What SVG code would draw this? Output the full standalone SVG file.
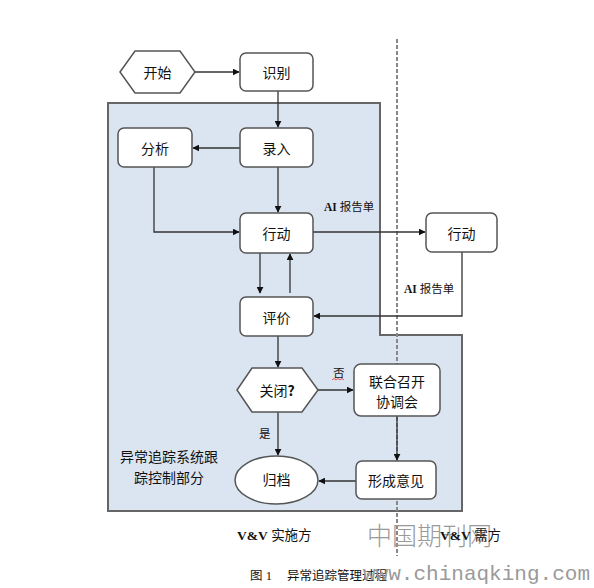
<svg xmlns="http://www.w3.org/2000/svg" width="594" height="588" viewBox="0 0 594 588">
<defs>
<style>
.n{fill:#fff;stroke:#555;stroke-width:1.5}
.t{font-family:"Noto Sans CJK SC","Liberation Sans",sans-serif;font-size:14px;fill:#111;text-anchor:middle;dominant-baseline:central}
.c{fill:none;stroke:#333;stroke-width:1.3}
.lab{font-family:"Liberation Serif","Noto Sans CJK SC",serif;font-size:11.5px;fill:#111}
.wm{fill:#9a9a9a}
</style>
<marker id="a" viewBox="0 0 10 10" refX="9" refY="5" markerWidth="7" markerHeight="7" orient="auto" markerUnits="userSpaceOnUse"><path d="M0,0 L10,5 L0,10 z" fill="#111"/></marker>
</defs>
<rect width="594" height="588" fill="#fff"/>
<g id="region">
<path d="M108,103 H380 V335 H462 V511 H108 Z" fill="#dbe5f1" stroke="#666" stroke-width="2"/>
</g>
<line id="divider" x1="397" y1="39" x2="397" y2="556" stroke="#888" stroke-width="2" stroke-dasharray="4,2"/>
<g id="connectors">
<line class="c" x1="195" y1="72" x2="239" y2="72" marker-end="url(#a)"/>
<line class="c" x1="278" y1="91" x2="278" y2="127" marker-end="url(#a)"/>
<line class="c" x1="240" y1="148" x2="193" y2="148" marker-end="url(#a)"/>
<polyline class="c" points="154,167 154,232 239,232" marker-end="url(#a)"/>
<line class="c" x1="278" y1="167" x2="278" y2="212" marker-end="url(#a)"/>
<line class="c" x1="260" y1="253" x2="260" y2="293" marker-end="url(#a)"/>
<line class="c" x1="290" y1="293" x2="290" y2="254" marker-end="url(#a)"/>
<line class="c" x1="313" y1="232" x2="425" y2="232" marker-end="url(#a)"/>
<polyline class="c" points="462,252 462,316 314,316" marker-end="url(#a)"/>
<line class="c" x1="278" y1="336" x2="278" y2="367" marker-end="url(#a)"/>
<line class="c" x1="318" y1="390" x2="353" y2="390" marker-end="url(#a)"/>
<line class="c" x1="278" y1="412" x2="278" y2="455" marker-end="url(#a)"/>
<line class="c" x1="397" y1="416" x2="397" y2="460" marker-end="url(#a)"/>
<line class="c" x1="356" y1="481" x2="319" y2="481" marker-end="url(#a)"/>
<text class="lab" x="324" y="211"><tspan font-weight="bold">AI</tspan> 报告单</text>
<text class="lab" x="404" y="293"><tspan font-weight="bold">AI</tspan> 报告单</text>
<text class="lab" x="333" y="377">否</text>
<path d="M332,380 l2,-1.5 l2,1.5 l2,-1.5 l2,1.5 l2,-1.5 l2,1.5" fill="none" stroke="#e33" stroke-width="0.8"/>
<text class="lab" x="259" y="438">是</text>
</g>
<g id="start"><polygon class="n" points="120,72 135,51 180,51 195,72 180,93 135,93"/><text class="t" x="157.5" y="72">开始</text></g>
<g id="identify"><rect class="n" x="240" y="53" width="73" height="38" rx="6"/><text class="t" x="276.5" y="72">识别</text></g>
<g id="analyze"><rect class="n" x="118" y="128" width="74" height="39" rx="6"/><text class="t" x="155" y="147.5">分析</text></g>
<g id="enter"><rect class="n" x="240" y="128" width="73" height="39" rx="6"/><text class="t" x="276.5" y="147.5">录入</text></g>
<g id="action"><rect class="n" x="240" y="213" width="73" height="40" rx="6"/><text class="t" x="276.5" y="233">行动</text></g>
<g id="action2"><rect class="n" x="426" y="213" width="71" height="39" rx="6"/><text class="t" x="461.5" y="232.5">行动</text></g>
<g id="evaluate"><rect class="n" x="240" y="297" width="73" height="39" rx="6"/><text class="t" x="276.5" y="316.5">评价</text></g>
<g id="close"><polygon class="n" points="237,390 252,368 302,368 318,390 302,412 252,412"/><text class="t" x="277" y="390">关闭<tspan font-weight="bold">?</tspan></text></g>
<g id="meeting"><rect class="n" x="354" y="364" width="86" height="52" rx="7"/><text class="t" x="397" y="381">联合召开</text><text class="t" x="397" y="401">协调会</text></g>
<g id="archive"><ellipse class="n" cx="276.5" cy="480" rx="41.5" ry="24"/><text class="t" x="276.5" y="479">归档</text></g>
<g id="opinion"><rect class="n" x="356" y="461" width="80" height="38" rx="6"/><text class="t" x="396" y="480">形成意见</text></g>
<g id="labels">
<text class="t" x="169" y="456">异常追踪系统跟</text>
<text class="t" x="169" y="477">踪控制部分</text>
<text class="wm" x="367" y="545" font-family="'Noto Sans CJK SC',serif" font-size="25" font-weight="300">中国期刊网</text>
<text x="237" y="540" font-family="'Liberation Serif','Noto Sans CJK SC',serif" font-size="13.5" fill="#111"><tspan font-weight="bold">V&amp;V</tspan> 实施方</text>
<text x="440" y="540" font-family="'Liberation Serif','Noto Sans CJK SC',serif" font-size="13.5" fill="#111"><tspan font-weight="bold">V&amp;V</tspan> 需方</text>
<text x="250" y="580" font-family="'Liberation Serif','Noto Sans CJK SC',serif" font-size="12.5" fill="#111">图 1</text>
<text x="287" y="580" font-family="'Noto Sans CJK SC',sans-serif" font-size="12.5" fill="#111">异常追踪管理过程</text>
<text class="wm" x="363" y="580" font-family="'Liberation Mono',monospace" font-size="21" textLength="227">www.chinaqking.com</text>
</g>
</svg>
